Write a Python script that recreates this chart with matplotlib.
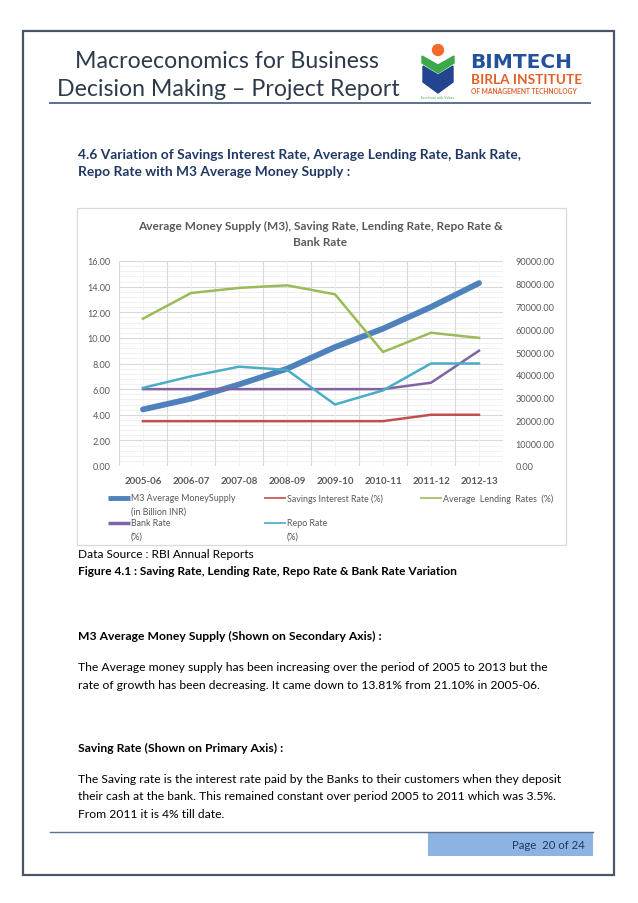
import matplotlib
matplotlib.use("Agg")
import matplotlib.pyplot as plt
from matplotlib.patches import Rectangle, Circle, Polygon
import numpy as np

plt.rcParams['font.family'] = ['Lato', 'DejaVu Sans']

# ---------------- data ----------------
years = ["2005-06", "2006-07", "2007-08", "2008-09", "2009-10", "2010-11", "2011-12", "2012-13"]
m3_supply = [24850, 29550, 35800, 42700, 52200, 60300, 69800, 80300]
savings_rate = [3.5, 3.5, 3.5, 3.5, 3.5, 3.5, 4.0, 4.0]
lending_rate = [11.5, 13.5, 13.9, 14.1, 13.4, 8.9, 10.4, 10.0]
bank_rate = [6.0, 6.0, 6.0, 6.0, 6.0, 6.0, 6.5, 9.0]
repo_rate = [6.1, 7.0, 7.75, 7.5, 4.8, 5.9, 8.0, 8.0]
left_ticks = [0, 2, 4, 6, 8, 10, 12, 14, 16]
right_ticks = [0, 10000, 20000, 30000, 40000, 50000, 60000, 70000, 80000, 90000]

W, H = 638, 904
fig = plt.figure(figsize=(W / 100, H / 100), dpi=100)
fig.patch.set_facecolor("white")

pg = fig.add_axes([0, 0, 1, 1])
pg.set_xlim(0, W)
pg.set_ylim(H, 0)
pg.axis("off")

# page border
pg.add_patch(Rectangle((23, 32), 591, 844, fill=False, ec="#4A5568", lw=1.6))

# header
hdr_col = "#2E3A4A"
pg.text(227, 61, "Macroeconomics for Business", ha="center", va="center",
        fontsize=16.7, color=hdr_col, fontweight="normal")
pg.text(228, 89, "Decision Making \u2013 Project Report", ha="center", va="center",
        fontsize=16.7, color=hdr_col, fontweight="normal")
pg.plot([50, 590], [104, 104], color="#5A7193", lw=1.4)

# logo
pg.add_patch(Circle((438, 51), 5.5, color="#F26B2B"))
pg.add_patch(Polygon([[422, 57], [438, 66], [454, 57], [454, 64], [438, 74], [422, 64]],
                     closed=True, color="#3DAA49"))
pg.add_patch(Polygon([[423, 67], [438, 76], [453, 67], [453, 83], [438, 94], [423, 83]],
                     closed=True, color="#23458F"))
pg.text(437, 98, "Excellence with Values", ha="center", va="center", fontsize=2.3, color="#3DAA49")
pg.text(470, 62, "BIMTECH", ha="left", va="center", fontsize=14.5, fontweight="bold",
        color="#22529A", family="DejaVu Sans")
pg.text(471, 80, "BIRLA INSTITUTE", ha="left", va="center", fontsize=9.8, fontweight="bold", color="#E2612A")
pg.text(471, 91, "OF MANAGEMENT TECHNOLOGY", ha="left", va="center", fontsize=4.8, fontweight="bold", color="#E2612A")

# section heading
head_col = "#1F3864"
pg.text(78, 155, "4.6 Variation of Savings Interest Rate, Average Lending Rate, Bank Rate,",
        ha="left", va="center", fontsize=9.9, fontweight="bold", color=head_col)
pg.text(78, 172, "Repo Rate with M3 Average Money Supply :",
        ha="left", va="center", fontsize=9.9, fontweight="bold", color=head_col)

# chart box
pg.add_patch(Rectangle((77, 209), 489, 337, fill=False, ec="#D9D9D9", lw=0.9))
gray = "#595959"
pg.text(320, 226, "Average Money Supply (M3), Saving Rate, Lending Rate, Repo Rate &",
        ha="center", va="center", fontsize=8.6, fontweight="bold", color=gray)
pg.text(320, 243, "Bank Rate", ha="center", va="center", fontsize=8.6, fontweight="bold", color=gray)

# ---------------- chart ----------------
px_l, px_r, px_t, px_b = 119, 503, 262, 467
ax = fig.add_axes([px_l / W, (H - px_b) / H, (px_r - px_l) / W, (px_b - px_t) / H])
ax2 = ax.twinx()

x = np.arange(len(years))
c_m3, c_sav, c_lend, c_bank, c_repo = "#4F81BD", "#C0504D", "#9BBB59", "#8064A2", "#4BACC6"

ax2.plot(x, m3_supply, color=c_m3, lw=4.2, solid_capstyle="round")
ax.plot(x, savings_rate, color=c_sav, lw=1.8)
ax.plot(x, lending_rate, color=c_lend, lw=1.8)
ax.plot(x, bank_rate, color=c_bank, lw=1.8)
ax.plot(x, repo_rate, color=c_repo, lw=1.8)
ax.set_zorder(ax2.get_zorder() + 1)
ax.patch.set_visible(False)

ax.set_xlim(-0.5, len(years) - 0.5)
ax.set_ylim(0, 16)
ax2.set_ylim(0, 90000)
ax.set_yticks(left_ticks)
ax.set_yticklabels([f"{v:.2f}" for v in left_ticks])
ax2.set_yticks(right_ticks)
ax2.set_yticklabels([f"{v:.2f}" for v in right_ticks])
ax.set_xticks(x)
ax.set_xticklabels(years)

# gridlines drawn on ax2 (below lines)
for yv in np.arange(0, 16.01, 0.4):
    major = abs(yv / 2 - round(yv / 2)) < 1e-6
    ax2.axhline(yv * 90000 / 16, color="#D9D9D9" if major else "#EFEFEF",
                lw=0.8 if major else 0.6, zorder=0)
for xv in np.arange(-0.5, len(years), 1.0):
    ax2.axvline(xv, color="#D9D9D9", lw=0.8, zorder=0)
for xv in x:
    ax2.axvline(xv, color="#EFEFEF", lw=0.6, zorder=0)

for a in (ax, ax2):
    for s in a.spines.values():
        s.set_visible(False)
    a.tick_params(length=0, which="both")
ax.tick_params(axis="y", labelsize=6.6, labelcolor=gray, pad=6)
ax2.tick_params(axis="y", labelsize=6.6, labelcolor=gray, pad=9)
ax.tick_params(axis="x", labelsize=7.0, labelcolor=gray, pad=7)
for t in ax.get_xticklabels():
    t.set_fontweight("bold")

# legend (manual layout)
leg_fs = 6.4
def leg_item(x0, y0, color, lw, lines):
    pg.plot([x0, x0 + 22], [y0, y0], color=color, lw=lw, solid_capstyle="butt")
    for i, ln in enumerate(lines):
        pg.text(x0 + 23, y0 + i * 13, ln, ha="left", va="center",
                fontsize=leg_fs, color=gray)

leg_item(108, 499, c_m3, 3.5, ["M3 Average MoneySupply", "(in Billion INR)"])
leg_item(264, 499, c_sav, 1.2, ["Savings Interest Rate (%)"])
leg_item(420, 499, c_lend, 1.2, ["Average  Lending  Rates  (%)"])
leg_item(108, 524, c_bank, 2.5, ["Bank Rate", "(%)"])
leg_item(264, 524, c_repo, 1.2, ["Repo Rate", "(%)"])

# captions
pg.text(78, 555, "Data Source : RBI Annual Reports", ha="left", va="center", fontsize=8.6, color="black")
pg.text(78, 572, "Figure 4.1 : Saving Rate, Lending Rate, Repo Rate & Bank Rate Variation",
        ha="left", va="center", fontsize=8.6, fontweight="bold", color="black")

body_fs = 8.7
pg.text(78, 636, "M3 Average Money Supply (Shown on Secondary Axis) :", ha="left", va="center",
        fontsize=body_fs, fontweight="bold", color="black")
pg.text(78, 668, "The Average money supply has been increasing over the period of 2005 to 2013 but the",
        ha="left", va="center", fontsize=body_fs, color="black")
pg.text(78, 686, "rate of growth has been decreasing. It came down to 13.81% from 21.10% in 2005-06.",
        ha="left", va="center", fontsize=body_fs, color="black")
pg.text(78, 748, "Saving Rate (Shown on Primary Axis) :", ha="left", va="center",
        fontsize=body_fs, fontweight="bold", color="black")
pg.text(78, 780, "The Saving rate is the interest rate paid by the Banks to their customers when they deposit",
        ha="left", va="center", fontsize=body_fs, color="black")
pg.text(78, 797, "their cash at the bank. This remained constant over period 2005 to 2011 which was 3.5%.",
        ha="left", va="center", fontsize=body_fs, color="black")
pg.text(78, 815, "From 2011 it is 4% till date.", ha="left", va="center", fontsize=body_fs, color="black")

# footer
pg.plot([50, 593], [833, 833], color="#5A7193", lw=1.0)
pg.add_patch(Rectangle((428, 833), 165, 24, color="#8DB3E2", lw=0))
pg.text(585, 846, "Page  20 of 24", ha="right", va="center", fontsize=8.2, color="#1F3864")

fig.savefig("out.png", dpi=100, facecolor="white")
